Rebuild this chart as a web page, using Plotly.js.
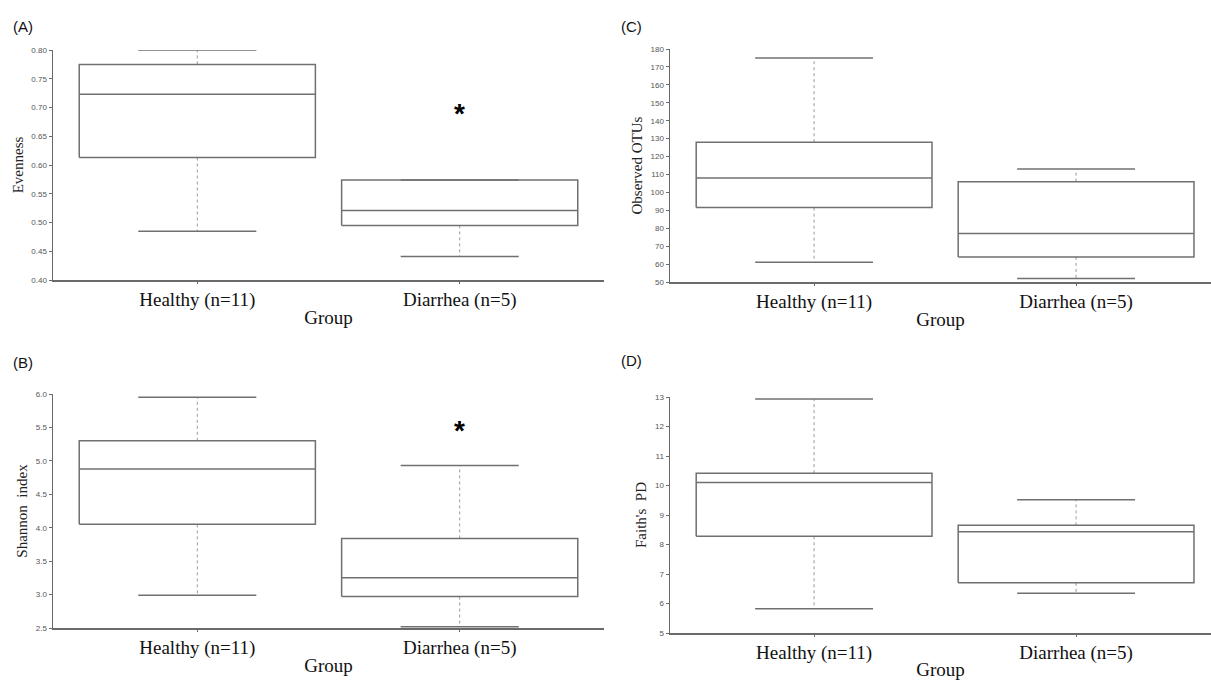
<!DOCTYPE html>
<html>
<head>
<meta charset="utf-8">
<script src="https://cdn.plot.ly/plotly-3.0.1.min.js"></script>
<style>html,body{margin:0;padding:0;background:#fff;}#chart{width:1211px;height:680px;}</style>
</head>
<body>
<div id="chart"></div>
<script>
// Categories
const groups = ['Healthy (n=11)', 'Diarrhea (n=5)'];

// (A) Evenness
const evenMin = [0.485, 0.441];
const evenQ1 = [0.613, 0.495];
const evenMed = [0.723, 0.521];
const evenQ3 = [0.775, 0.574];
const evenMax = [0.800, 0.574];
const evenStar = 0.70;

// (B) Shannon index
const shanMin = [2.99, 2.52];
const shanQ1 = [4.05, 2.97];
const shanMed = [4.88, 3.25];
const shanQ3 = [5.30, 3.84];
const shanMax = [5.95, 4.93];
const shanStar = 5.55;

// (C) Observed OTUs
const otuMin = [61, 52];
const otuQ1 = [91.5, 64];
const otuMed = [108, 77];
const otuQ3 = [128, 106];
const otuMax = [175, 113];

// (D) Faith's PD
const pdMin = [5.82, 6.35];
const pdQ1 = [8.28, 6.70];
const pdMed = [10.10, 8.43];
const pdQ3 = [10.42, 8.65];
const pdMax = [12.93, 9.52];

const BOX_COL = '#707070';
const WHISK_COL = '#9a9a9a';
const AX_COL = '#6a6a6a';

function boxTraces(xa, ya, mins, q1s, meds, q3s, maxs) {
  const hw = 0.45, cw = 0.225;
  const ox = [], oy = [], mx = [], my = [], wx = [], wy = [], cx = [], cy = [];
  for (let i = 0; i < mins.length; i++) {
    ox.push(i - hw, i + hw, i + hw, i - hw, i - hw, null);
    oy.push(q1s[i], q1s[i], q3s[i], q3s[i], q1s[i], null);
    mx.push(i - hw, i + hw, null);
    my.push(meds[i], meds[i], null);
    wx.push(i, i, null, i, i, null);
    wy.push(q3s[i], maxs[i], null, q1s[i], mins[i], null);
    cx.push(i - cw, i + cw, null, i - cw, i + cw, null);
    cy.push(maxs[i], maxs[i], null, mins[i], mins[i], null);
  }
  const base = {type: 'scatter', mode: 'lines', xaxis: xa, yaxis: ya, hoverinfo: 'skip', showlegend: false};
  return [
    Object.assign({}, base, {x: wx, y: wy, line: {color: WHISK_COL, width: 1, dash: 'dot'}}),
    Object.assign({}, base, {x: cx, y: cy, line: {color: BOX_COL, width: 1.5}}),
    Object.assign({}, base, {x: ox, y: oy, line: {color: BOX_COL, width: 1.5}}),
    Object.assign({}, base, {x: mx, y: my, line: {color: BOX_COL, width: 1.5}})
  ];
}

const data = [].concat(
  boxTraces('x', 'y', evenMin, evenQ1, evenMed, evenQ3, evenMax),
  boxTraces('x2', 'y2', shanMin, shanQ1, shanMed, shanQ3, shanMax),
  boxTraces('x3', 'y3', otuMin, otuQ1, otuMed, otuQ3, otuMax),
  boxTraces('x4', 'y4', pdMin, pdQ1, pdMed, pdQ3, pdMax)
);

const W = 1211, H = 680;
const px = v => v / W;
const py = v => 1 - v / H;

const serif = 'Liberation Serif, Times New Roman, serif';
const sans = 'Liberation Sans, Arial, sans-serif';

function xAxis(dom, anchor, range) {
  return {
    domain: dom, anchor: anchor, range: range,
    tickmode: 'array', tickvals: [0, 1], ticktext: groups,
    showline: true, linecolor: AX_COL, linewidth: 1.5,
    ticks: 'outside', ticklen: 2, tickcolor: AX_COL,
    showgrid: false, zeroline: false,
    tickfont: {family: serif, size: 19, color: '#111'},
    title: {text: 'Group', font: {family: serif, size: 19, color: '#111'}, standoff: 0},
    fixedrange: true
  };
}
function yAxis(dom, anchor, range, dtick, fmt, title) {
  return {
    domain: dom, anchor: anchor, range: range,
    tickmode: 'linear', tick0: range[0], dtick: dtick, tickformat: fmt,
    showline: true, linecolor: AX_COL, linewidth: 1.5,
    ticks: 'outside', ticklen: 3, tickcolor: AX_COL,
    showgrid: false, zeroline: false,
    tickfont: {family: sans, size: 8, color: '#555'},
    title: {text: title, font: {family: serif, size: 15, color: '#222'}, standoff: 4},
    fixedrange: true
  };
}

const layout = {
  width: W, height: H, autosize: false,
  margin: {l: 0, r: 0, t: 0, b: 0},
  paper_bgcolor: '#fff', plot_bgcolor: '#fff',
  showlegend: false,
  xaxis: xAxis([px(53), px(604)], 'y', [-0.55, 1.55]),
  yaxis: yAxis([py(280), py(50)], 'x', [0.40, 0.8001], 0.05, '.2f', 'Evenness'),
  xaxis2: xAxis([px(53), px(604)], 'y2', [-0.55, 1.55]),
  yaxis2: yAxis([py(628), py(394)], 'x2', [2.5, 6.0001], 0.5, '.1f', 'Shannon  index'),
  xaxis3: xAxis([px(670), 1], 'y3', [-0.55, 1.515]),
  yaxis3: yAxis([py(282), py(49)], 'x3', [50, 180.01], 10, 'd', 'Observed OTUs'),
  xaxis4: xAxis([px(670), 1], 'y4', [-0.55, 1.515]),
  yaxis4: yAxis([py(633), py(397)], 'x4', [5, 13.001], 1, 'd', "Faith's  PD"),
  annotations: [
    {xref: 'paper', yref: 'paper', x: px(11), y: py(27), xanchor: 'left', yanchor: 'middle', text: '(A)', showarrow: false, font: {family: sans, size: 15, color: '#111'}},
    {xref: 'paper', yref: 'paper', x: px(11), y: py(362), xanchor: 'left', yanchor: 'middle', text: '(B)', showarrow: false, font: {family: sans, size: 15, color: '#111'}},
    {xref: 'paper', yref: 'paper', x: px(619), y: py(27), xanchor: 'left', yanchor: 'middle', text: '(C)', showarrow: false, font: {family: sans, size: 15, color: '#111'}},
    {xref: 'paper', yref: 'paper', x: px(619), y: py(360), xanchor: 'left', yanchor: 'middle', text: '(D)', showarrow: false, font: {family: sans, size: 15, color: '#111'}},
    {xref: 'x', yref: 'y', x: 1, y: evenStar, text: '<b>*</b>', showarrow: false, yshift: -6, font: {family: sans, size: 28, color: '#000'}},
    {xref: 'x2', yref: 'y2', x: 1, y: shanStar, text: '<b>*</b>', showarrow: false, yshift: -6, font: {family: sans, size: 28, color: '#000'}}
  ]
};

Plotly.newPlot('chart', data, layout, {staticPlot: true, displayModeBar: false});
</script>
</body>
</html>
